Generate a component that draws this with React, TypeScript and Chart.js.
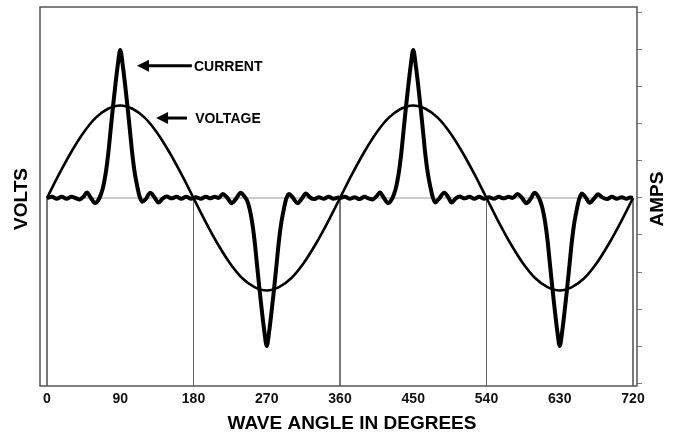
import React, { useEffect, useRef } from "react";
import { Chart, registerables } from "chart.js";

Chart.register(...registerables);

// ---- data ----
const ANGLE_TICKS = [0, 90, 180, 270, 360, 450, 540, 630, 720];
const GRID_ANGLES = [0, 180, 360, 540, 720];
const AMPS_TICKS = [-5, -4, -3, -2, -1, 0, 1, 2, 3, 4, 5];

const VOLTAGE_ANGLES = [
  0, 15, 30, 45, 60, 75, 90, 105, 120, 135, 150, 165, 180, 195, 210, 225, 240,
  255, 270, 285, 300, 315, 330, 345, 360, 375, 390, 405, 420, 435, 450, 465,
  480, 495, 510, 525, 540, 555, 570, 585, 600, 615, 630, 645, 660, 675, 690,
  705, 720,
];
const VOLTAGE_VALUES = [
  0, 0.65, 1.25, 1.77, 2.17, 2.41, 2.5, 2.41, 2.17, 1.77, 1.25, 0.65, 0, -0.65,
  -1.25, -1.77, -2.17, -2.41, -2.5, -2.41, -2.17, -1.77, -1.25, -0.65, 0, 0.65,
  1.25, 1.77, 2.17, 2.41, 2.5, 2.41, 2.17, 1.77, 1.25, 0.65, 0, -0.65, -1.25,
  -1.77, -2.17, -2.41, -2.5, -2.41, -2.17, -1.77, -1.25, -0.65, 0,
];

const CURRENT_ANGLES = [
  0, 6, 12, 18, 24, 30, 35, 40, 45, 49, 54, 59, 63, 66, 69, 72, 75, 78, 81, 84,
  87, 90, 93, 96, 99, 102, 105, 108, 111, 114, 117, 121, 127, 132, 137, 142,
  147, 153, 159, 165, 171, 177, 183, 189, 195, 201, 206, 211, 216, 221, 227,
  232, 238, 242, 246, 249, 252, 255, 258, 261, 264, 267, 270, 273, 276, 279,
  282, 285, 288, 291, 294, 297, 301, 308, 313, 318, 323, 328, 334, 340, 346,
  352, 358,
  360, 366, 372, 378, 384, 390, 395, 400, 405, 409, 414, 419, 423, 426, 429,
  432, 435, 438, 441, 444, 447, 450, 453, 456, 459, 462, 465, 468, 471, 474,
  477, 481, 488, 493, 497, 502, 507, 513, 519, 525, 531, 537, 543, 549, 555,
  561, 567, 572, 578, 583, 589, 594, 599, 603, 606, 609, 612, 615, 618, 621,
  624, 627, 630, 633, 636, 639, 642, 645, 648, 651, 654, 657, 661, 667, 672,
  677, 682, 688, 694, 700, 706, 712, 716, 720,
];
const CURRENT_VALUES = [
  0, 0.03, -0.02, 0.03, -0.02, 0.03, 0, -0.04, 0.04, 0.15, 0, -0.14, -0.06,
  0.08, 0.3, 0.65, 1.15, 1.8, 2.45, 3.05, 3.6, 4.0, 3.6, 3.05, 2.45, 1.8, 1.15,
  0.65, 0.3, 0.02, -0.1, -0.04, 0.14, 0.02, -0.12, -0.02, 0.04, -0.01, 0.03,
  -0.02, 0.03, -0.02, 0.02, -0.02, 0.03, -0.01, 0.03, 0, 0.11, 0.02, -0.14,
  -0.03, 0.14, 0.06, -0.08, -0.3, -0.65, -1.15, -1.8, -2.45, -3.05, -3.6, -4.0,
  -3.6, -3.05, -2.45, -1.8, -1.15, -0.65, -0.3, -0.02, 0.11, 0.04, -0.14, -0.02,
  0.12, 0.02, -0.03, 0.02, -0.02, 0.03, -0.02, 0.01,
  0, 0.03, -0.02, 0.02, -0.03, 0.03, -0.01, -0.04, 0.05, 0.15, 0, -0.14, -0.06,
  0.08, 0.3, 0.65, 1.15, 1.8, 2.45, 3.05, 3.6, 4.0, 3.6, 3.05, 2.45, 1.8, 1.15,
  0.65, 0.3, 0.02, -0.12, -0.04, 0.14, 0.02, -0.12, -0.02, 0.04, -0.01, 0.03,
  -0.02, 0.03, -0.02, 0.02, -0.02, 0.03, -0.01, 0.03, 0, 0.11, 0.02, -0.14,
  -0.03, 0.14, 0.06, -0.08, -0.3, -0.65, -1.15, -1.8, -2.45, -3.05, -3.6, -4.0,
  -3.6, -3.05, -2.45, -1.8, -1.15, -0.65, -0.3, -0.02, 0.12, 0.04, -0.13, -0.02,
  0.1, 0.02, -0.03, 0.03, -0.02, 0.02, -0.02, 0.01, 0,
];

// ---- scale ranges ----
const X_MIN = -8.6;
const X_MAX = 724.9;
const Y_MIN = -5.08;
const Y_MAX = 5.16;

// ---- annotations (data coordinates) ----
const CURRENT_NOTE = { text: "CURRENT", y: 3.57, tip: 110.6, tail: 178, textX: 180.6 };
const VOLTAGE_NOTE = { text: "VOLTAGE", y: 2.16, tip: 134, tail: 172, textX: 182 };

const FONT = "'Liberation Sans', Arial, Helvetica, sans-serif";

const decorPlugin = {
  id: "decor",
  afterDatasetsDraw(chart: any) {
    const { ctx, chartArea, scales } = chart;
    const xs = scales.x;
    const ys = scales.y;
    ctx.save();
    // frame
    ctx.strokeStyle = "#555";
    ctx.lineWidth = 1.5;
    ctx.strokeRect(
      chartArea.left,
      chartArea.top,
      chartArea.right - chartArea.left,
      chartArea.bottom - chartArea.top
    );

    // annotations with arrows
    const drawNote = (note: any) => {
      const y = ys.getPixelForValue(note.y);
      const tip = xs.getPixelForValue(note.tip);
      const tail = xs.getPixelForValue(note.tail);
      const head = 12;
      ctx.strokeStyle = "#000";
      ctx.fillStyle = "#000";
      ctx.lineWidth = 3;
      ctx.beginPath();
      ctx.moveTo(tip + head - 1, y);
      ctx.lineTo(tail, y);
      ctx.stroke();
      ctx.beginPath();
      ctx.moveTo(tip, y);
      ctx.lineTo(tip + head, y - 6);
      ctx.lineTo(tip + head, y + 6);
      ctx.closePath();
      ctx.fill();
      ctx.font = `bold 14px ${FONT}`;
      ctx.textAlign = "left";
      ctx.textBaseline = "middle";
      ctx.fillText(note.text, xs.getPixelForValue(note.textX), y + 1);
    };
    drawNote(CURRENT_NOTE);
    drawNote(VOLTAGE_NOTE);

    // axis titles
    ctx.fillStyle = "#000";
    ctx.font = `bold 19px ${FONT}`;
    ctx.textAlign = "center";
    ctx.textBaseline = "middle";
    ctx.fillText("WAVE ANGLE IN DEGREES", 352, 424);

    ctx.save();
    ctx.translate(22, 199);
    ctx.rotate(-Math.PI / 2);
    ctx.fillText("VOLTS", 0, 0);
    ctx.restore();

    ctx.save();
    ctx.translate(658, 199);
    ctx.rotate(-Math.PI / 2);
    ctx.fillText("AMPS", 0, 0);
    ctx.restore();

    ctx.restore();
  },
};

export default function App() {
  const canvasRef = useRef<HTMLCanvasElement | null>(null);

  useEffect(() => {
    if (!canvasRef.current) return;

    const voltage = VOLTAGE_ANGLES.map((a, i) => ({ x: a, y: VOLTAGE_VALUES[i] }));
    const current = CURRENT_ANGLES.map((a, i) => ({ x: a, y: CURRENT_VALUES[i] }));

    const gridSets = GRID_ANGLES.map((a) => ({
      label: `grid-${a}`,
      data: [
        { x: a, y: 0 },
        { x: a, y: Y_MIN },
      ],
      borderColor: "#666",
      borderWidth: 1,
      pointRadius: 0,
      tension: 0,
      order: 3,
    }));

    const chart = new Chart(canvasRef.current, {
      type: "line",
      data: {
        datasets: [
          {
            label: "CURRENT",
            data: current,
            borderColor: "#000",
            borderWidth: 4,
            pointRadius: 0,
            cubicInterpolationMode: "monotone",
            order: 0,
          },
          {
            label: "VOLTAGE",
            data: voltage,
            borderColor: "#000",
            borderWidth: 2.6,
            pointRadius: 0,
            cubicInterpolationMode: "monotone",
            order: 1,
          },
          {
            label: "zero",
            data: [
              { x: 0, y: 0 },
              { x: 720, y: 0 },
            ],
            borderColor: "#bbb",
            borderWidth: 1.5,
            pointRadius: 0,
            order: 4,
          },
          ...gridSets,
        ] as any,
      },
      options: {
        responsive: false,
        animation: false,
        events: [],
        layout: { padding: { left: 40, right: 32, top: 7, bottom: 9 } },
        plugins: {
          legend: { display: false },
          tooltip: { enabled: false },
          title: { display: false },
        },
        scales: {
          x: {
            type: "linear",
            min: X_MIN,
            max: X_MAX,
            grid: { display: false, drawTicks: false },
            border: { display: false },
            ticks: {
              autoSkip: false,
              maxRotation: 0,
              padding: 5,
              color: "#111",
              font: { family: FONT, size: 14, weight: "bold" },
              callback: (v: any) => String(v),
            },
            afterBuildTicks: (s: any) => {
              s.ticks = ANGLE_TICKS.map((v) => ({ value: v }));
            },
            afterFit: (s: any) => {
              s.height = 40;
            },
          },
          y: {
            type: "linear",
            position: "right",
            min: Y_MIN,
            max: Y_MAX,
            grid: {
              drawOnChartArea: false,
              drawTicks: true,
              tickLength: 5,
              color: "#777",
              lineWidth: 1,
            },
            border: { display: false },
            ticks: { display: false },
            afterBuildTicks: (s: any) => {
              s.ticks = AMPS_TICKS.map((v) => ({ value: v }));
            },
            afterFit: (s: any) => {
              s.width = 5;
            },
          },
        },
      } as any,
      plugins: [decorPlugin],
    });

    return () => chart.destroy();
  }, []);

  return (
    <div style={{ position: "absolute", left: 0, top: 0, width: 674, height: 435, background: "#fff" }}>
      <canvas ref={canvasRef} width={674} height={435} />
    </div>
  );
}
